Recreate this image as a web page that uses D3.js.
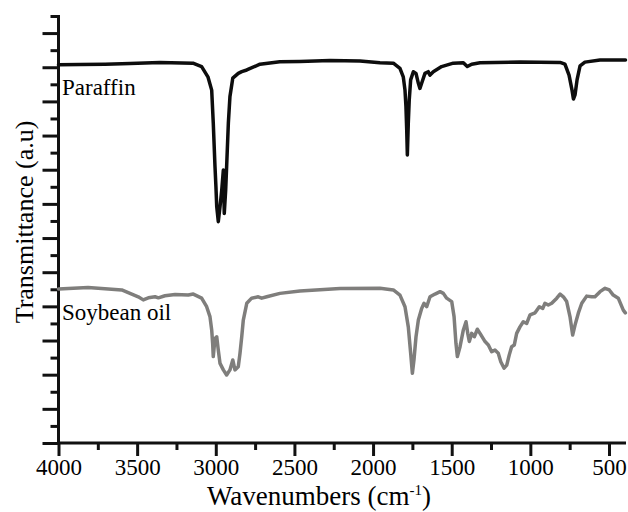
<!DOCTYPE html>
<html>
<head>
<meta charset="utf-8">
<script src="https://cdn.jsdelivr.net/npm/d3@7"></script>
<style>
  html, body { margin: 0; padding: 0; background: #fff; }
  svg { display: block; }
</style>
</head>
<body>
<svg id="chart" width="628" height="512"></svg>
<script>
// ---------- data ----------
const xMajorTicks = [4000, 3500, 3000, 2500, 2000, 1500, 1000, 500];
const xMinorTicks = [3750, 3250, 2750, 2250, 1750, 1250, 750];
const yMajorTicks = [0,1,2,3,4,5,6,7,8,9,10,11,12];
const yMinorTicks = [0.5,1.5,2.5,3.5,4.5,5.5,6.5,7.5,8.5,9.5,10.5,11.5,12.5];

const seriesNames = ["Paraffin", "Soybean oil"];

const paraffinWn = [4000,3863,3704,3545,3355,3145,3090,3050,3026,3016,3005,2999,2994,2984,2973,2962,2952,2946,2937,2931,2920,2910,2892,2857,2835,2803,2719,2593,2465,2274,2083,1956,1871,1829,1808,1797,1791,1786,1782,1776,1770,1761,1744,1727,1712,1702,1691,1670,1649,1638,1617,1564,1490,1426,1401,1373,1320,1066,811,780,754,735,726,716,703,684,653,557,395];
const paraffinT = [11.07,11.08,11.09,11.11,11.14,11.12,11.02,10.72,10.33,9.37,8.09,7.50,6.92,6.48,6.92,7.41,7.99,6.72,7.41,8.09,9.37,10.14,10.68,10.82,10.87,10.92,11.09,11.16,11.17,11.20,11.18,11.13,11.12,10.97,10.72,10.33,9.85,9.16,8.43,9.36,10.04,10.63,10.87,10.82,10.53,10.38,10.53,10.82,10.87,10.77,10.87,11.02,11.12,11.13,11.02,11.09,11.13,11.15,11.14,11.09,10.77,10.33,10.07,10.19,10.63,11.04,11.15,11.21,11.21];

const soybeanWn = [4000,3812,3598,3493,3461,3429,3386,3365,3323,3259,3175,3143,3090,3058,3037,3026,3020,3016,3005,2994,2984,2973,2952,2931,2910,2892,2878,2857,2846,2835,2825,2803,2772,2730,2708,2676,2592,2465,2210,1956,1871,1829,1797,1776,1761,1750,1740,1727,1712,1691,1676,1659,1638,1606,1574,1553,1532,1500,1485,1473,1464,1447,1426,1409,1398,1388,1373,1356,1337,1320,1288,1267,1246,1225,1204,1188,1167,1150,1134,1119,1102,1087,1066,1045,1023,1002,970,943,921,907,886,864,832,811,790,769,748,731,716,695,673,642,610,589,557,525,498,473,441,409,396];
const soybeanT = [4.51,4.55,4.48,4.28,4.19,4.25,4.28,4.25,4.31,4.35,4.33,4.36,4.24,3.99,3.70,3.31,2.92,2.53,3.06,3.11,2.72,2.33,2.14,1.99,2.14,2.43,2.14,2.23,2.63,3.11,3.60,4.09,4.24,4.28,4.24,4.28,4.38,4.45,4.52,4.53,4.48,4.33,3.99,3.40,2.63,2.04,2.43,3.11,3.60,3.94,4.09,3.99,4.28,4.36,4.43,4.38,4.24,4.14,3.70,2.92,2.53,2.82,3.31,3.55,3.21,2.97,3.21,3.11,3.33,3.21,2.97,2.87,2.67,2.72,2.63,2.38,2.19,2.28,2.58,2.82,2.87,3.21,3.40,3.55,3.50,3.75,3.81,3.99,3.94,4.09,4.04,4.09,4.24,4.36,4.28,4.14,3.70,3.16,3.45,3.80,4.09,4.30,4.28,4.28,4.43,4.53,4.48,4.33,4.24,3.89,3.81];

// ---------- layout ----------
const svg = d3.select("#chart");
const x = d3.scaleLinear().domain([4000, 395]).range([58.5, 625.5]);
const y = d3.scaleLinear().domain([0, 12.5]).range([443, 16]);

const axisColor = "#111";
const FONT = "Liberation Serif";

// X axis
const gx = svg.append("g").attr("transform", `translate(0,${y(0)})`);
gx.call(d3.axisBottom(x).tickValues(xMajorTicks).tickSize(13).tickSizeOuter(0).tickPadding(3).tickFormat(d3.format("d")));
gx.append("g").call(d3.axisBottom(x).tickValues(xMinorTicks).tickSize(7).tickSizeOuter(0).tickFormat(""))
  .select(".domain").remove();
gx.attr("font-family", FONT).attr("font-size", 23);
gx.selectAll(".domain").attr("stroke", axisColor).attr("stroke-width", 3)
  .attr("d", `M${x(4000)},0H626`);
gx.selectAll(".tick line").attr("stroke", axisColor).attr("stroke-width", 3);
gx.selectAll(".tick text").attr("font-family", FONT).attr("font-size", 23).attr("fill", "#000");

// Y axis
const gy = svg.append("g").attr("transform", `translate(${x(4000)},0)`);
gy.call(d3.axisLeft(y).tickValues(yMajorTicks).tickSize(16).tickSizeOuter(0).tickFormat(""));
gy.append("g").call(d3.axisLeft(y).tickValues(yMinorTicks).tickSize(8).tickSizeOuter(0).tickFormat(""))
  .select(".domain").remove();
gy.selectAll(".domain").attr("stroke", axisColor).attr("stroke-width", 3)
  .attr("d", `M0,${y(0) + 1.5}V${y(12.5) - 1}`);
gy.selectAll(".tick line").attr("stroke", axisColor).attr("stroke-width", 3);

// Lines
const line = d3.line().x(d => x(d[0])).y(d => y(d[1]));
const paraffin = paraffinWn.map((w, i) => [w, paraffinT[i]]);
const soybean = soybeanWn.map((w, i) => [w, soybeanT[i]]);

svg.append("path").datum(soybean).attr("d", line)
  .attr("fill", "none").attr("stroke", "#7f7e7c").attr("stroke-width", 3.5)
  .attr("stroke-linejoin", "round").attr("stroke-linecap", "round");
svg.append("path").datum(paraffin).attr("d", line)
  .attr("fill", "none").attr("stroke", "#0d0d0d").attr("stroke-width", 3.5)
  .attr("stroke-linejoin", "round").attr("stroke-linecap", "round");

// Series labels
svg.append("text").attr("x", 62).attr("y", 95).attr("font-family", FONT).attr("font-size", 23).attr("fill", "#000").text(seriesNames[0]);
svg.append("text").attr("x", 62).attr("y", 320).attr("font-family", FONT).attr("font-size", 23).attr("fill", "#000").text(seriesNames[1]);

// Axis titles
const xt = svg.append("text").attr("x", 319).attr("y", 505).attr("text-anchor", "middle")
  .attr("font-family", FONT).attr("font-size", 27).attr("fill", "#000");
xt.append("tspan").text("Wavenumbers (cm");
xt.append("tspan").attr("dy", -10).attr("font-size", 15).text("-1");
xt.append("tspan").attr("dy", 10).text(")");

svg.append("text").attr("transform", "translate(33,222) rotate(-90)")
  .attr("text-anchor", "middle").attr("font-family", FONT).attr("font-size", 26).attr("fill", "#000")
  .text("Transmittance (a.u)");
</script>
</body>
</html>
